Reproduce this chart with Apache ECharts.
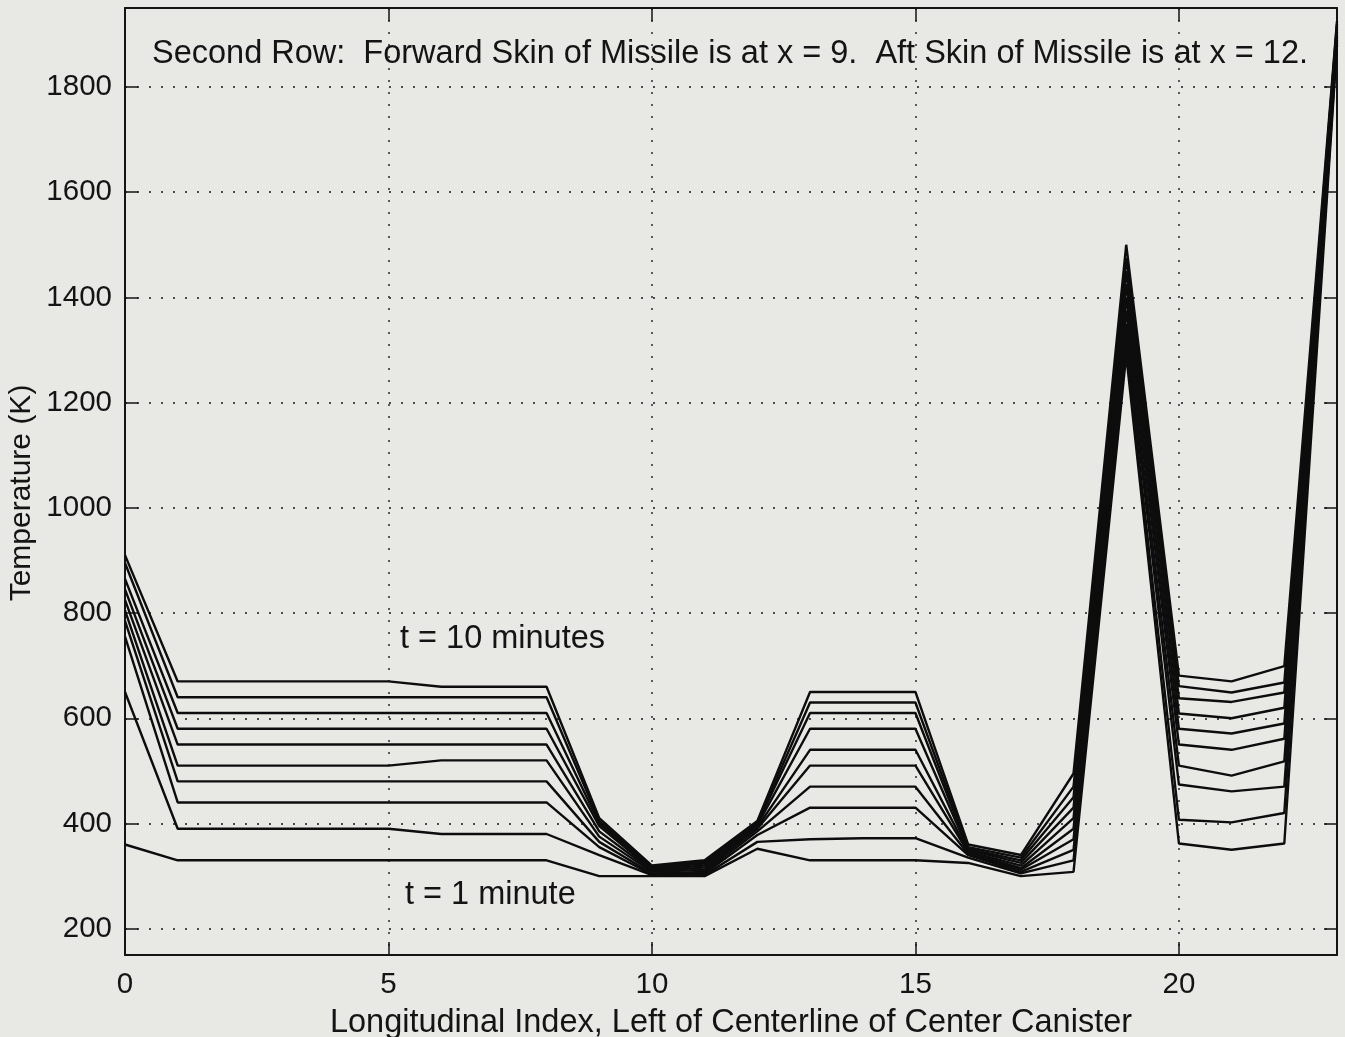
<!DOCTYPE html>
<html>
<head>
<meta charset="utf-8">
<title>Second Row Temperature Profile</title>
<script src="https://cdn.jsdelivr.net/npm/echarts@6/dist/echarts.min.js"></script>
<style>
  html, body { margin: 0; padding: 0; background: #e8e9e5; }
  #chart { width: 1345px; height: 1037px; }
</style>
</head>
<body>
<div id="chart"></div>
<script>
// Longitudinal index positions (left of centerline of center canister)
const xIndex = [0, 1, 2, 3, 4, 5, 6, 7, 8, 9, 10, 11, 12, 13, 14, 15, 16, 17, 18, 19, 20, 21, 22, 23];

// Temperature (K) at each index, one profile per minute of elapsed time
const t1  = [360, 330, 330, 330, 330, 330, 330, 330, 330, 300, 300, 300, 352, 330, 330, 330, 325, 300, 308, 1290, 362, 350, 362, 1880];
const t2  = [650, 390, 390, 390, 390, 390, 380, 380, 380, 340, 302, 302, 365, 370, 372, 372, 335, 305, 330, 1310, 407, 402, 420, 1885];
const t3  = [755, 440, 440, 440, 440, 440, 440, 440, 440, 355, 303, 305, 378, 430, 430, 430, 340, 308, 350, 1330, 474, 461, 470, 1890];
const t4  = [785, 480, 480, 480, 480, 480, 480, 480, 480, 365, 305, 308, 385, 470, 470, 470, 342, 312, 370, 1350, 510, 491, 518, 1895];
const t5  = [805, 510, 510, 510, 510, 510, 520, 520, 520, 375, 308, 312, 390, 510, 510, 510, 345, 315, 390, 1375, 550, 540, 561, 1900];
const t6  = [825, 550, 550, 550, 550, 550, 550, 550, 550, 385, 310, 316, 393, 540, 540, 540, 347, 320, 410, 1400, 580, 571, 590, 1905];
const t7  = [845, 580, 580, 580, 580, 580, 580, 580, 580, 395, 312, 320, 397, 580, 580, 580, 350, 325, 430, 1425, 609, 600, 620, 1910];
const t8  = [865, 610, 610, 610, 610, 610, 610, 610, 610, 400, 315, 324, 400, 610, 610, 610, 352, 330, 450, 1450, 638, 631, 649, 1915];
const t9  = [895, 640, 640, 640, 640, 640, 640, 640, 640, 405, 318, 327, 402, 630, 630, 630, 355, 335, 470, 1475, 661, 649, 668, 1920];
const t10 = [910, 670, 670, 670, 670, 670, 660, 660, 660, 410, 320, 330, 405, 650, 650, 650, 360, 340, 495, 1500, 681, 670, 699, 1925];

const profiles = [t1, t2, t3, t4, t5, t6, t7, t8, t9, t10];

// Tick positions
const xTicks = [0, 5, 10, 15, 20];
const yTicks = [200, 400, 600, 800, 1000, 1200, 1400, 1600, 1800];

const FONT = 'Liberation Sans, Arial, Helvetica, sans-serif';
const INK = '#141414';
const GRID = { color: '#4a4a4a', width: 1.8, type: [2, 10] };
const plain = v => String(v);

const chart = echarts.init(document.getElementById('chart'), null, { renderer: 'canvas' });

const series = profiles.map((vals, i) => ({
  name: 't = ' + (i + 1),
  type: 'line',
  xAxisIndex: 0,
  yAxisIndex: 0,
  data: xIndex.map((x, k) => [x, vals[k]]),
  showSymbol: false,
  symbol: 'none',
  silent: true,
  lineStyle: { color: '#0d0d0d', width: 2.4 },
  emphasis: { disabled: true },
  z: 3
}));

chart.setOption({
  animation: false,
  backgroundColor: '#e8e9e5',
  grid: { left: 125, right: 8, top: 8, bottom: 82, containLabel: false, outerBoundsMode: 'none' },
  xAxis: [
    {
      type: 'value', min: 0, max: 23, position: 'bottom',
      name: 'Longitudinal Index, Left of Centerline of Center Canister',
      nameLocation: 'middle', nameGap: 52,
      nameTextStyle: { fontFamily: FONT, fontSize: 32.5, color: INK },
      axisLine: { show: true, onZero: false, lineStyle: { color: INK, width: 2 } },
      axisTick: { show: true, inside: true, length: 13, customValues: xTicks, lineStyle: { color: INK, width: 1.5 } },
      axisLabel: { show: true, customValues: xTicks, formatter: plain, margin: 15, fontFamily: FONT, fontSize: 29.5, color: INK },
      splitLine: { show: true, lineStyle: GRID }
    },
    {
      type: 'value', min: 0, max: 23, position: 'top',
      axisLine: { show: true, onZero: false, lineStyle: { color: INK, width: 2 } },
      axisTick: { show: true, inside: true, length: 13, customValues: xTicks, lineStyle: { color: INK, width: 1.5 } },
      axisLabel: { show: false },
      splitLine: { show: false }
    }
  ],
  yAxis: [
    {
      type: 'value', min: 150, max: 1950, position: 'left',
      axisLine: { show: true, onZero: false, lineStyle: { color: INK, width: 2 } },
      axisTick: { show: true, inside: true, length: 13, customValues: yTicks, lineStyle: { color: INK, width: 1.5 } },
      axisLabel: { show: true, customValues: yTicks, formatter: plain, margin: 13, fontFamily: FONT, fontSize: 29.5, color: INK },
      splitLine: { show: true, lineStyle: GRID }
    },
    {
      type: 'value', min: 150, max: 1950, position: 'right',
      axisLine: { show: true, onZero: false, lineStyle: { color: INK, width: 2 } },
      axisTick: { show: true, inside: true, length: 13, customValues: yTicks, lineStyle: { color: INK, width: 1.5 } },
      axisLabel: { show: false },
      splitLine: { show: false }
    }
  ],
  graphic: [
    {
      type: 'text', left: 152, top: 38, z: 10,
      style: {
        text: 'Second Row:  Forward Skin of Missile is at x = 9.  Aft Skin of Missile is at x = 12.',
        font: '32.5px ' + FONT, fill: INK
      }
    },
    {
      // vertical axis title
      type: 'text', x: 22, y: 493, rotation: Math.PI / 2, z: 10,
      style: {
        text: 'Temperature (K)', font: '30px ' + FONT, fill: INK,
        align: 'center', verticalAlign: 'middle'
      }
    },
    {
      type: 'text', left: 400, top: 623, z: 10,
      style: { text: 't = 10 minutes', font: '32.5px ' + FONT, fill: INK }
    },
    {
      type: 'text', left: 405, top: 879, z: 10,
      style: { text: 't = 1 minute', font: '32.5px ' + FONT, fill: INK }
    }
  ],
  series: series
});
</script>
</body>
</html>
